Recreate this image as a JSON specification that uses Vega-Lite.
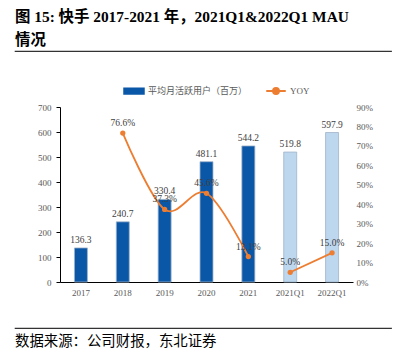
{
  "$schema": "https://vega.github.io/schema/vega-lite/v6.json",
  "padding": {"left": 14, "right": 13, "top": 9, "bottom": 0},
  "spacing": 28,
  "columns": 1,
  "align": "none",
  "resolve": {"legend": {"color": "independent"}},
  "config": {"view": {"stroke": null}, "font": "Liberation Serif, Noto Sans CJK SC"},
  "datasets": {
    "mau": [
      {"cat": "2017", "mau": 136.3, "yoy": null, "kind": "A", "seg": "a", "series": "YOY"},
      {"cat": "2018", "mau": 240.7, "yoy": 0.766, "kind": "A", "seg": "a", "series": "YOY"},
      {"cat": "2019", "mau": 330.4, "yoy": 0.373, "kind": "A", "seg": "a", "series": "YOY"},
      {"cat": "2020", "mau": 481.1, "yoy": 0.456, "kind": "A", "seg": "a", "series": "YOY"},
      {"cat": "2021", "mau": 544.2, "yoy": 0.131, "kind": "A", "seg": "a", "series": "YOY"},
      {"cat": "2021Q1", "mau": 519.8, "yoy": 0.05, "kind": "Q", "seg": "q", "series": "YOY"},
      {"cat": "2022Q1", "mau": 597.9, "yoy": 0.15, "kind": "Q", "seg": "q", "series": "YOY"}
    ]
  },
  "concat": [
    {
      "width": 376,
      "height": 0.001,
      "view": {"stroke": "#333333", "strokeWidth": 1.2},
      "title": {
        "text": ["图 15: 快手 2017-2021 年，2021Q1&2022Q1 MAU", "情况"],
        "anchor": "start",
        "frame": "group",
        "fontSize": 15.4,
        "fontWeight": "bold",
        "color": "#000000",
        "lineHeight": 23,
        "offset": 3,
        "font": "Liberation Serif, Noto Sans CJK SC"
      },
      "data": {"values": []},
      "mark": "rule",
      "encoding": {}
    },
    {
      "width": 376,
      "height": 175,
      "data": {"name": "mau"},
      "encoding": {
        "x": {
          "field": "cat",
          "type": "ordinal",
          "sort": null,
          "scale": {"range": [45, 338], "paddingInner": 0.69, "paddingOuter": 0.345},
          "axis": {
            "title": null,
            "labelAngle": 0,
            "labelFont": "Liberation Serif",
            "labelFontSize": 9,
            "labelColor": "#595959",
            "labelPadding": 6,
            "ticks": false,
            "domain": true,
            "domainColor": "#000000",
            "domainWidth": 1,
            "minExtent": 17
          }
        }
      },
      "layer": [
        {
          "encoding": {
            "y": {
              "field": "mau",
              "type": "quantitative",
              "scale": {"domain": [0, 700]},
              "axis": {
                "title": null,
                "offset": -45,
                "values": [0, 100, 200, 300, 400, 500, 600, 700],
                "labelOverlap": false,
                "domain": true,
                "ticks": true,
                "tickSize": 4,
                "labelPadding": 5,
                "domainColor": "#000000",
                "tickColor": "#000000",
                "grid": false,
                "labelFont": "Liberation Serif",
                "labelFontSize": 9,
                "labelColor": "#595959"
              }
            }
          },
          "layer": [
            {
              "mark": {"type": "bar", "stroke": "#9fb3c8", "strokeWidth": 0.8},
              "encoding": {
                "fill": {
                  "condition": {"test": "datum.kind === 'Q'", "value": "#BDD7EE"},
                  "value": "#0A57A8"
                }
              }
            },
            {
              "mark": {"type": "text", "baseline": "bottom", "dy": -3, "fontSize": 9.5, "color": "#404040", "font": "Liberation Serif"},
              "encoding": {
                "text": {"field": "mau", "type": "quantitative", "format": ".1f"}
              }
            }
          ]
        },
        {
          "transform": [{"filter": "isValid(datum.yoy)"}],
          "encoding": {
            "y": {
              "field": "yoy",
              "type": "quantitative",
              "scale": {"domain": [0, 0.9]},
              "axis": {
                "orient": "right",
                "offset": -38,
                "title": null,
                "format": ".0%",
                "values": [0, 0.1, 0.2, 0.3, 0.4, 0.5, 0.6, 0.7, 0.8, 0.9],
                "labelOverlap": false,
                "domain": false,
                "ticks": false,
                "grid": false,
                "labelPadding": 3,
                "labelFont": "Liberation Serif",
                "labelFontSize": 9,
                "labelColor": "#595959"
              }
            }
          },
          "layer": [
            {
              "mark": {"type": "line", "interpolate": "cardinal", "strokeWidth": 1.8},
              "encoding": {
                "color": {
                  "field": "series",
                  "type": "nominal",
                  "scale": {"domain": ["平均月活跃用户（百万）", "YOY"], "range": ["#0A57A8", "#ED7D31"]},
                  "legend": {
                    "orient": "none",
                    "legendX": 108,
                    "legendY": -27,
                    "direction": "horizontal",
                    "title": null,
                    "labelFont": "Liberation Serif, Noto Sans CJK SC",
                    "labelFontSize": 9,
                    "labelColor": "#595959",
                    "symbolSize": 380,
                    "labelOffset": 3,
                    "columnPadding": 14,
                    "encode": {
                      "symbols": {
                        "update": {
                          "shape": {"signal": "datum.value === 'YOY' ? 'M-1,0H1M-0.3,0A0.3,0.3,0,1,1,0.3,0A0.3,0.3,0,1,1,-0.3,0Z' : 'M-1,-0.27H1V0.27H-1Z'"},
                          "fill": {"signal": "scale('color', datum.value)"},
                          "stroke": {"signal": "datum.value === 'YOY' ? scale('color', datum.value) : 'transparent'"},
                          "strokeWidth": {"value": 2},
                          "opacity": {"value": 1}
                        }
                      }
                    }
                  }
                },
                "detail": {"field": "seg", "type": "nominal"}
              }
            },
            {
              "mark": {"type": "point", "filled": true, "size": 28, "color": "#ED7D31", "opacity": 1}
            },
            {
              "mark": {"type": "text", "baseline": "bottom", "dy": -5, "fontSize": 9.5, "color": "#404040", "font": "Liberation Serif"},
              "encoding": {
                "text": {"field": "yoy", "type": "quantitative", "format": ".1%"}
              }
            }
          ]
        }
      ],
      "resolve": {"scale": {"y": "independent"}}
    },
    {
      "width": 376,
      "height": 0.001,
      "view": {"stroke": "#333333", "strokeWidth": 1.2},
      "title": {
        "text": "数据来源：公司财报，东北证券",
        "orient": "bottom",
        "anchor": "start",
        "frame": "group",
        "fontSize": 14.4,
        "fontWeight": "normal",
        "font": "Noto Sans CJK SC",
        "color": "#000000",
        "offset": 7
      },
      "data": {"values": []},
      "mark": "rule",
      "encoding": {}
    }
  ]
}
